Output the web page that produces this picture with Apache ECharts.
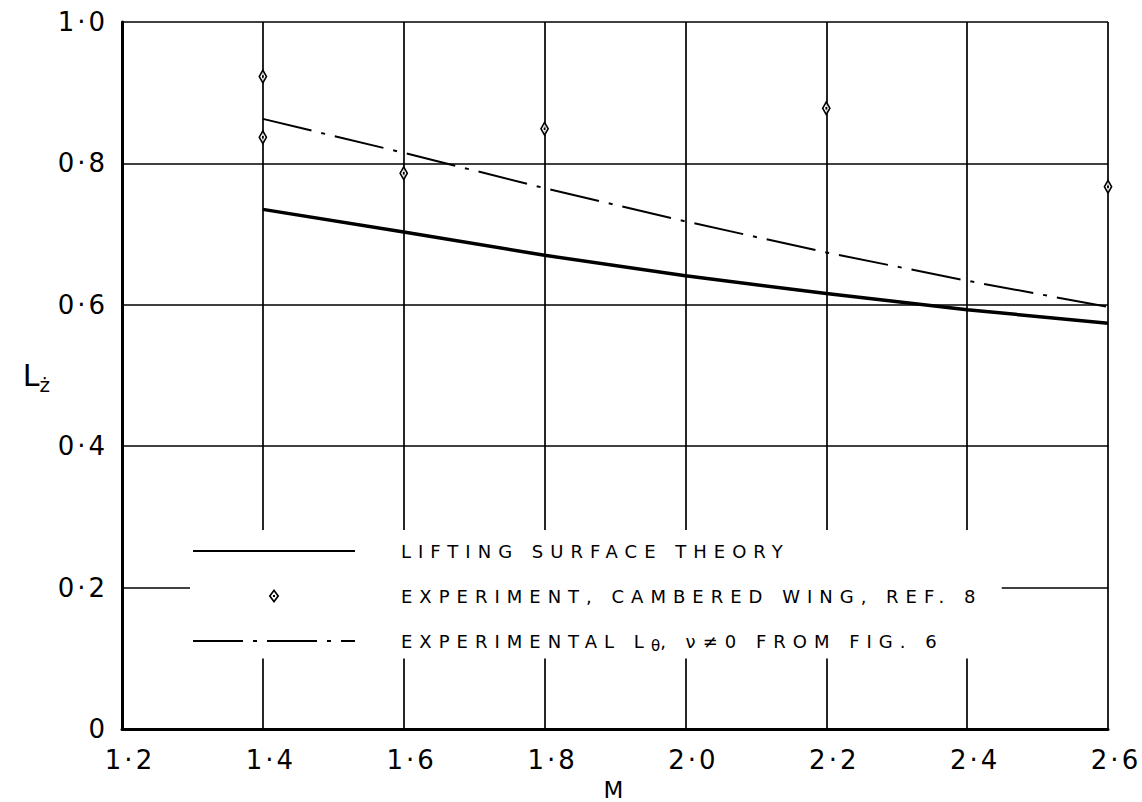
<!DOCTYPE html>
<html lang="en">
<head>
    <meta charset="UTF-8">
    <script src="https://cdn.jsdelivr.net/npm/echarts@6/dist/echarts.min.js"></script>
    <title>L z-dot against M</title>
    <style>
        body{margin:0;background:#fff}
        #main{width:1142px;height:802px}
        /* the hand lettering is spread wide, svg text takes css letter-spacing */
        text[style*="Verdana"]{letter-spacing:7px}
        text[style*="Tahoma"]{letter-spacing:3px}
    </style>
</head>
<body>
<div id="main"></div>
<script type="text/javascript">
    // lifting surface theory and the L theta curve, read at each grid line of M
    var machList = [1.4, 1.6, 1.8, 2.0, 2.2, 2.4, 2.6];
    var theoryList = [0.735, 0.703, 0.670, 0.641, 0.616, 0.593, 0.574];
    var lthetaList = [0.863, 0.815, 0.765, 0.718, 0.674, 0.634, 0.597];
    // experiment, cambered wing
    var expMach = [1.4, 1.4, 1.6, 1.8, 2.2, 2.6];
    var expValue = [0.923, 0.837, 0.786, 0.849, 0.878, 0.767];
    var xTickLabels = ['1·2', '1·4', '1·6', '1·8', '2·0', '2·2', '2·4', '2·6'];
    var yTickLabels = ['0', '0·2', '0·4', '0·6', '0·8', '1·0'];

    var names = ['LIFTING SURFACE THEORY', 'EXPERIMENT, CAMBERED WING, REF. 8', 'EXPERIMENTAL Lθ, ν≠0 FROM FIG. 6'];

    function zip(a, b) {
        var out = [];
        for (var i = 0; i < a.length; i++) out.push([a[i], b[i]]);
        return out;
    }

    var legendFont = 'Verdana, DejaVu Sans';
    var tickFont = 'Tahoma, DejaVu Sans';
    // rich tokens are placed by measured width, so add the css spacing back in
    var ctx = document.createElement('canvas').getContext('2d');
    ctx.font = '18px ' + legendFont;
    function spacedWidth(s) {
        return Math.round(ctx.measureText(s).width + s.length * 7);
    }
    var headPart = 'EXPERIMENTAL L';

    // diamond outline with a dot in the middle
    var diamondDot = 'path://M6,0 L12,8 L6,16 L0,8 Z M6,3.2 L2.4,8 L6,12.8 L9.6,8 Z M4.8,6.8 L7.2,6.8 L7.2,9.2 L4.8,9.2 Z';

    var myChart = echarts.init(document.getElementById('main'), null, {renderer: 'svg'});
    var option = {
        backgroundColor: '#fff',
        animation: false,
        grid: {left: 122, right: 34, top: 22, bottom: 73, outerBoundsMode: 'none'},
        xAxis: {
            type: 'value',
            min: 1.2,
            max: 2.6,
            interval: 0.2,
            name: 'M',
            nameLocation: 'middle',
            nameGap: 44,
            nameTextStyle: {color: '#000', fontSize: 23, lineHeight: 24, fontFamily: tickFont},
            axisLine: {lineStyle: {color: '#000', width: 3}},
            axisTick: {show: false},
            axisLabel: {
                color: '#000', fontSize: 26, fontFamily: tickFont, margin: 18,
                padding: [0, 0, 0, 16],
                formatter: function (v) { return xTickLabels[Math.round((v - 1.2) / 0.2)]; }
            },
            splitLine: {lineStyle: {color: '#000', width: 1.7}}
        },
        yAxis: {
            type: 'value',
            min: 0,
            max: 1,
            interval: 0.2,
            name: '{l|L}{s|ż}',
            nameLocation: 'middle',
            nameRotate: 0,
            nameGap: 72,
            nameTextStyle: {
                rich: {
                    l: {fontSize: 30, fontFamily: 'DejaVu Sans', color: '#000'},
                    s: {fontSize: 20, fontFamily: 'DejaVu Sans', color: '#000', padding: [18, 0, 0, 0]}
                }
            },
            axisLine: {show: true, lineStyle: {color: '#000', width: 3}},
            axisTick: {show: false},
            axisLabel: {
                color: '#000', fontSize: 26, fontFamily: tickFont, margin: 14,
                formatter: function (v) { return yTickLabels[Math.round(v / 0.2)]; }
            },
            splitLine: {lineStyle: {color: '#000', width: 1.7}}
        },
        legend: {
            orient: 'vertical',
            left: 190,
            top: 530,
            padding: [12, 177, 5, 2],
            itemWidth: 162,
            itemHeight: 14,
            itemGap: 27,
            selectedMode: false,
            backgroundColor: '#fff',
            data: [
                {name: names[0], itemStyle: {color: 'rgba(0,0,0,0)', borderWidth: 0}},
                {name: names[1]},
                {name: names[2], itemStyle: {color: 'rgba(0,0,0,0)', borderWidth: 0}}
            ],
            formatter: function (name) {
                if (name === names[2]) {
                    return '{gap|}{head|' + headPart + '}{sub|θ}' + name.slice(headPart.length + 1);
                }
                return '{gap|}' + name;
            },
            textStyle: {
                color: '#000',
                fontSize: 18,
                fontFamily: legendFont,
                rich: {
                    gap: {width: 41},
                    head: {width: spacedWidth(headPart), fontSize: 18, fontFamily: legendFont, color: '#000'},
                    sub: {fontSize: 15, fontFamily: 'DejaVu Sans', color: '#000', padding: [10, 0, 0, 0]}
                }
            }
        },
        series: [{
            name: names[0],
            type: 'line',
            data: zip(machList, theoryList),
            symbol: 'none',
            z: 3,
            itemStyle: {color: '#000'},
            lineStyle: {color: '#000', width: 3.5}
        }, {
            name: names[2],
            type: 'line',
            data: zip(machList, lthetaList),
            symbol: 'none',
            z: 3,
            itemStyle: {color: '#000'},
            lineStyle: {color: '#000', width: 2, type: [50, 10, 4, 10]}
        }, {
            // white fill under the diamonds so grid lines don't show through
            type: 'scatter',
            data: zip(expMach, expValue),
            symbol: 'diamond',
            symbolSize: [10, 14],
            silent: true,
            z: 4,
            itemStyle: {color: '#fff'}
        }, {
            name: names[1],
            type: 'scatter',
            data: zip(expMach, expValue),
            symbol: diamondDot,
            symbolSize: [12, 16],
            symbolKeepAspect: true,
            z: 5,
            itemStyle: {color: '#000', opacity: 1}
        }]
    };
    myChart.setOption(option);
</script>
</body>
</html>
